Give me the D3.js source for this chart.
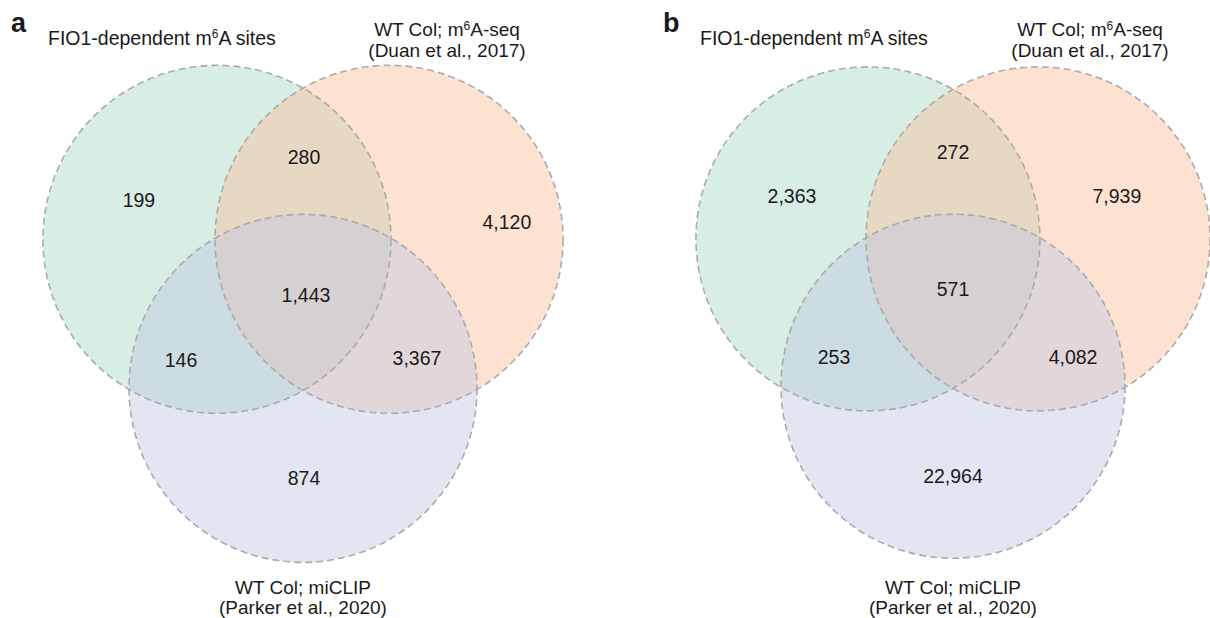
<!DOCTYPE html>
<html>
<head>
<meta charset="utf-8">
<script src="https://cdn.jsdelivr.net/npm/d3@7"></script>
<style>
  html, body { margin: 0; padding: 0; background: #ffffff; }
  svg { display: block; }
  text { font-family: "Liberation Sans", Arial, Helvetica, sans-serif; fill: #1a1a1a; }
</style>
</head>
<body>
<svg id="chart" width="1210" height="618"></svg>
<script>
// Sets compared in both panels
const setIds = ["fio1", "duan", "parker"];
const setFills = ["#a8d8c4", "#fbbf9b", "#bfc7e2"];

// Region keys: membership in (FIO1-dependent, m6A-seq, miCLIP)
const regionKeys = ["100", "110", "010", "111", "101", "011", "001"];

// Site counts per region
const countsA = [199, 280, 4120, 1443, 146, 3367, 874];
const countsB = [2363, 272, 7939, 571, 253, 4082, 22964];

const panelLetters = ["a", "b"];

// Label anchors per region, in units of the circle radius relative to the centre of the three circles
const anchorsA = [[-0.943, -0.51], [0.006, -0.76], [1.172, -0.385], [0.017, 0.035], [-0.701, 0.408], [0.655, 0.397], [0.006, 1.086]];
const anchorsB = [[-0.936, -0.535], [0.0, -0.79], [0.953, -0.535], [0.0, 0.006], [-0.692, 0.401], [0.698, 0.401], [0.0, 1.093]];

const fmt = d3.format(",");
const svg = d3.select("#chart");

// Circle centres for a three-set Venn: equilateral triangle, spacing in radius units
const spacing = 0.989;
const triH = spacing * Math.sqrt(3) / 2;
const centres = [
  [-spacing / 2, -triH / 3],
  [ spacing / 2, -triH / 3],
  [0, 2 * triH / 3]
];

function drawPanel(cfg) {
  const x = d3.scaleLinear().domain([0, 1]).range([cfg.cx, cfg.cx + cfg.r]);
  const y = d3.scaleLinear().domain([0, 1]).range([cfg.cy, cfg.cy + cfg.r]);
  const g = svg.append("g");

  const sets = setIds.map((id, i) => ({ id, fill: setFills[i], c: centres[i] }));

  g.selectAll("circle.fill").data(sets).join("circle")
    .attr("class", "fill")
    .attr("cx", d => x(d.c[0]))
    .attr("cy", d => y(d.c[1]))
    .attr("r", x(1) - x(0))
    .attr("fill", d => d.fill)
    .attr("fill-opacity", 0.45);

  g.selectAll("circle.edge").data(sets).join("circle")
    .attr("class", "edge")
    .attr("cx", d => x(d.c[0]))
    .attr("cy", d => y(d.c[1]))
    .attr("r", x(1) - x(0))
    .attr("fill", "none")
    .attr("stroke", "#ababab")
    .attr("stroke-width", 1.6)
    .attr("stroke-dasharray", "7,4");

  const regions = regionKeys.map((k, i) => ({ key: k, value: cfg.counts[i], pos: cfg.anchors[i] }));
  g.selectAll("text.count").data(regions).join("text")
    .attr("class", "count")
    .attr("x", d => x(d.pos[0]))
    .attr("y", d => y(d.pos[1]))
    .attr("dy", "0.35em")
    .attr("text-anchor", "middle")
    .style("font-size", "19.5px")
    .text(d => fmt(d.value));

  // Panel letter
  g.append("text")
    .attr("x", cfg.letterX).attr("y", 32)
    .style("font-size", "27px").style("font-weight", "bold")
    .text(cfg.letter);

  // FIO1-dependent set title (with superscript)
  const t1 = g.append("text")
    .attr("x", cfg.titleX).attr("y", 45)
    .style("font-size", "19.5px");
  t1.append("tspan").text("FIO1-dependent m");
  t1.append("tspan").attr("dy", -7).style("font-size", "12px").text("6");
  t1.append("tspan").attr("dy", 7).text("A sites");

  // m6A-seq set title, two lines
  const t2 = g.append("text")
    .attr("x", cfg.duanX).attr("y", 36)
    .attr("text-anchor", "middle")
    .style("font-size", "19px");
  t2.append("tspan").text("WT Col; m");
  t2.append("tspan").attr("dy", -6).style("font-size", "12px").text("6");
  t2.append("tspan").attr("dy", 6).text("A-seq");
  g.append("text")
    .attr("x", cfg.duanX).attr("y", 57)
    .attr("text-anchor", "middle")
    .style("font-size", "19px")
    .text("(Duan et al., 2017)");

  // miCLIP set title, two lines
  g.append("text")
    .attr("x", x(0)).attr("y", 594)
    .attr("text-anchor", "middle")
    .style("font-size", "19px")
    .text("WT Col; miCLIP");
  g.append("text")
    .attr("x", x(0)).attr("y", 614)
    .attr("text-anchor", "middle")
    .style("font-size", "19px")
    .text("(Parker et al., 2020)");
}

drawPanel({ letter: panelLetters[0], counts: countsA, anchors: anchorsA,
  cx: 303, cy: 289, r: 174, letterX: 11, titleX: 48, duanX: 447 });
drawPanel({ letter: panelLetters[1], counts: countsB, anchors: anchorsB,
  cx: 953, cy: 288, r: 172, letterX: 663, titleX: 700, duanX: 1090 });
</script>
</body>
</html>
